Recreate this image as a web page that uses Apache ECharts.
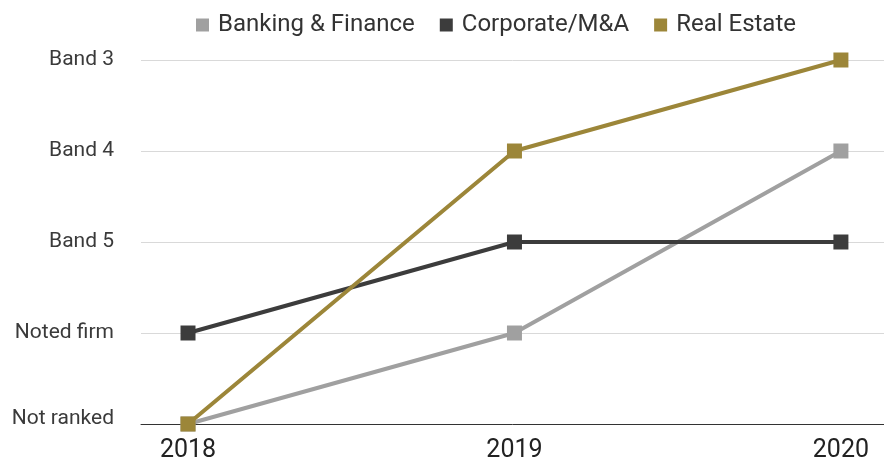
<!DOCTYPE html>
<html><head><meta charset="utf-8">
<script src="https://cdn.jsdelivr.net/npm/echarts@6/dist/echarts.min.js"></script>
<style>html,body{margin:0;padding:0;background:#fff}#c{width:884px;height:463px}</style>
</head><body><div id="c"></div>
<script>
const years = [2018, 2019, 2020];
const rankLabels = ['Not ranked', 'Noted firm', 'Band 5', 'Band 4', 'Band 3'];
const seriesNames = ['Banking & Finance', 'Corporate/M&A', 'Real Estate'];
const banking = [0, 1, 3];
const corporate = [1, 2, 2];
const realEstate = [0, 3, 4];
const colors = ['#a0a0a0', '#3c3c3c', '#9c8639'];
const values = [banking, corporate, realEstate];

const lblFont = {fontSize: 21, color: '#3a3a3a', fontFamily: 'Roboto', fontWeight: 400};
const chart = echarts.init(document.getElementById('c'));
chart.setOption({
  animation: false,
  textStyle: {fontFamily: 'Roboto'},
  legend: {
    top: 8, left: 191, itemWidth: 13, itemHeight: 13, itemGap: 25, icon: 'rect',
    textStyle: {fontSize: 24, color: '#333', fontFamily: 'Roboto', padding: [0, 0, 0, 4]},
    data: seriesNames
  },
  grid: {left: 141, right: 0, top: 60, bottom: 38, containLabel: false},
  xAxis: {
    type: 'value', min: 2017.856, max: 2020.132,
    axisLine: {show: true, lineStyle: {color: '#333', width: 1}},
    axisTick: {show: false},
    splitLine: {show: false},
    axisLabel: {customValues: years, fontSize: 25, color: '#222', margin: 14, formatter: v => String(v)}
  },
  yAxis: {
    type: 'value', min: 0, max: 4, interval: 1,
    axisLine: {show: false}, axisTick: {show: false},
    splitLine: {lineStyle: {color: '#d9d9d9', width: 1}},
    axisLabel: Object.assign({}, lblFont, {
      margin: 27,
      formatter: v => {
        const t = rankLabels[v] || '';
        return v === 0 ? '{a|' + t + '}' : '{c|' + t + '}';
      },
      rich: {
        a: Object.assign({}, lblFont, {padding: [0, 0, 10, 0]}),
        c: Object.assign({}, lblFont)
      }
    })
  },
  series: seriesNames.map((n, i) => ({
    name: n, type: 'line', z: i + 2,
    data: years.map((y, j) => [y, values[i][j]]),
    symbol: 'rect', symbolSize: 15,
    itemStyle: {color: colors[i]},
    lineStyle: {width: 4, color: colors[i]}
  }))
});
</script></body></html>
